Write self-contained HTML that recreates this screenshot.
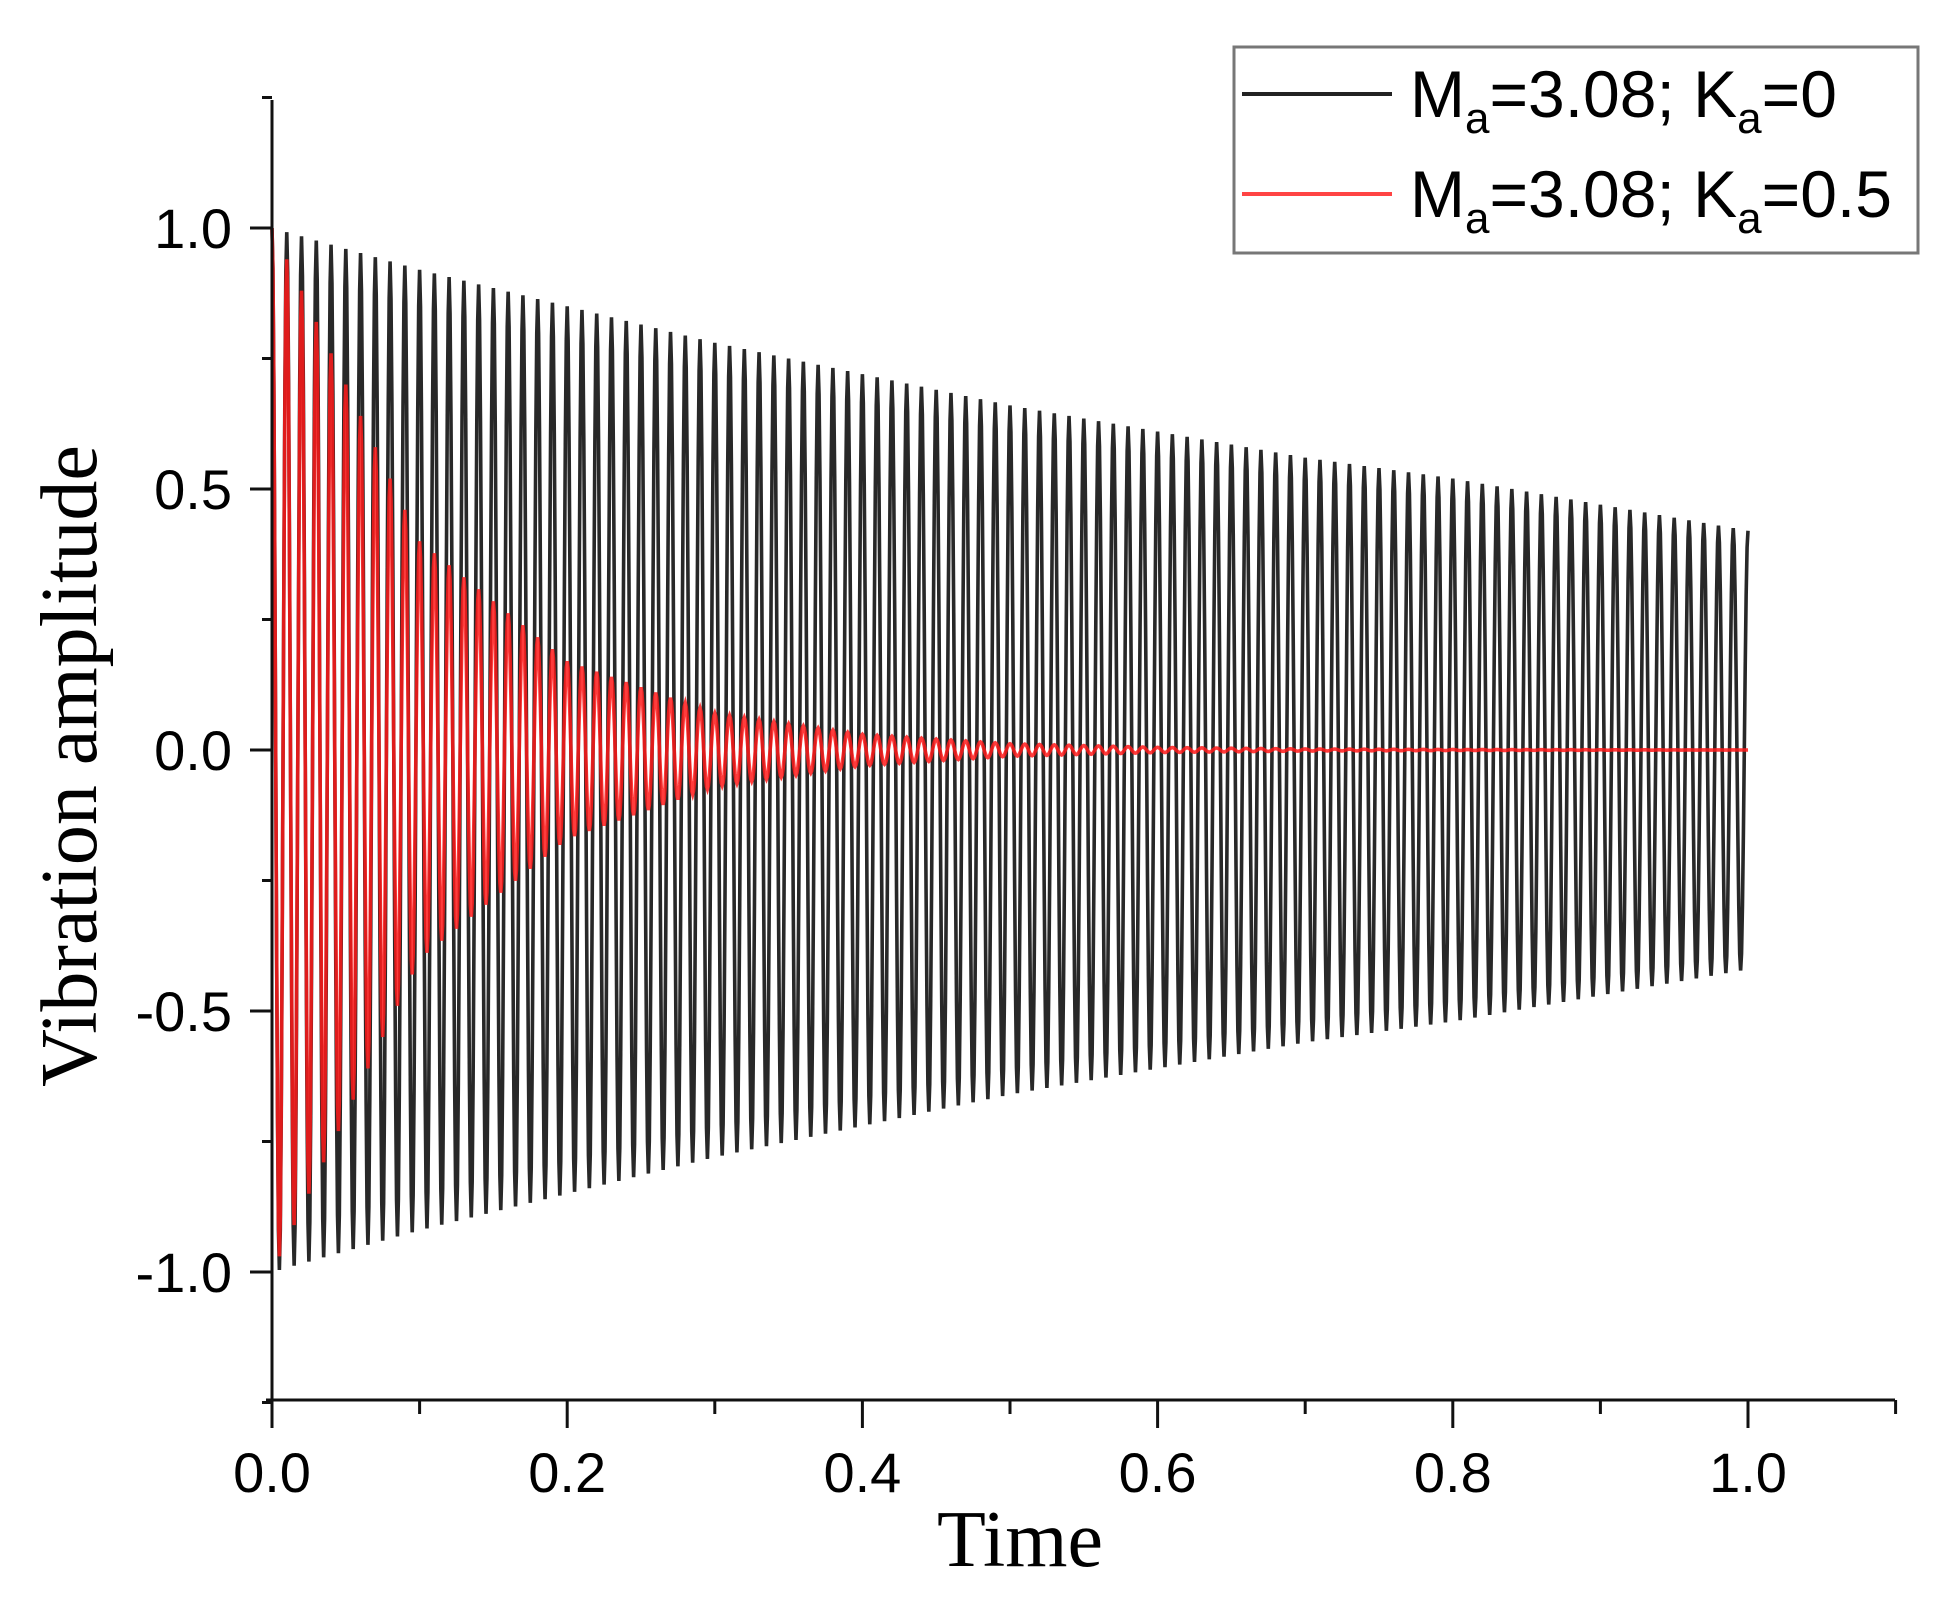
<!DOCTYPE html>
<html><head><meta charset="utf-8"><style>
html,body{margin:0;padding:0;background:#fff;width:1948px;height:1614px;overflow:hidden}
</style></head><body>
<svg id="chart" width="1948" height="1614" xmlns="http://www.w3.org/2000/svg">
<g id="plot"></g>
<g id="axes"></g>
<text x="1020" y="1566" font-family="Liberation Serif, serif" font-size="80" text-anchor="middle">Time</text>
<text transform="translate(96,766) rotate(-90)" font-family="Liberation Serif, serif" font-size="80" text-anchor="middle">Vibration amplitude</text>
<g>
<rect x="1234" y="47" width="684" height="206" fill="#fff" stroke="#777" stroke-width="3"/>
<g>
<line x1="1242" y1="94" x2="1392" y2="94" stroke="#222" stroke-width="4"/>
<text x="1410" y="117" font-family="Liberation Sans, sans-serif" font-size="66">M<tspan font-size="44" dy="16">a</tspan><tspan dy="-16">=3.08; K</tspan><tspan font-size="44" dy="16">a</tspan><tspan dy="-16">=0</tspan></text>
</g>
<g>
<line x1="1242" y1="194" x2="1392" y2="194" stroke="#f44" stroke-width="4"/>
<text x="1410" y="217" font-family="Liberation Sans, sans-serif" font-size="66">M<tspan font-size="44" dy="16">a</tspan><tspan dy="-16">=3.08; K</tspan><tspan font-size="44" dy="16">a</tspan><tspan dy="-16">=0.5</tspan></text>
</g>
</g>
</svg>
<script>
// data
const envTimes = [0,0.1,0.2,0.3,0.4,0.5,0.6,0.7,0.8,0.9,1.0];
const envKa0 = [1.0,0.92,0.85,0.78,0.72,0.66,0.61,0.56,0.52,0.47,0.42];
const envKa05 = [1.0,0.40,0.17,0.07,0.03,0.012,0.005,0.002,0.001,0.0005,0.0];
const cyclesPerUnit = [100];
const xTicks = [0,0.2,0.4,0.6,0.8,1.0];
const xTickLabels = ["0.0","0.2","0.4","0.6","0.8","1.0"];
const yTicks = [-1.0,-0.5,0.0,0.5,1.0];
const yTickLabels = ["-1.0","-0.5","0.0","0.5","1.0"];

const X0=272, X1=1748, Y0=750, YU=522;
function xs(t){return X0+(X1-X0)*t;}
function ys(v){return Y0-YU*v;}
function env(arr,t){
  for(let i=0;i<envTimes.length-1;i++){
    if(t<=envTimes[i+1]){const f=(t-envTimes[i])/(envTimes[i+1]-envTimes[i]);return arr[i]+(arr[i+1]-arr[i])*f;}
  }
  return arr[arr.length-1];
}
const NS="http://www.w3.org/2000/svg";
const plot=document.getElementById('plot'), axes=document.getElementById('axes');
function series(arr,color,w,name,op){
  const n=cyclesPerUnit[0]*16; let d='';
  for(let i=0;i<=n;i++){const t=i/n;const v=env(arr,t)*Math.cos(2*Math.PI*cyclesPerUnit[0]*t);
    d+=(i?'L':'M')+xs(t).toFixed(2)+' '+ys(v).toFixed(2);}
  const p=document.createElementNS(NS,'path');
  p.setAttribute('d',d);p.setAttribute('fill','none');p.setAttribute('stroke',color);
  p.setAttribute('stroke-width',w);p.setAttribute('stroke-opacity',op);
  
  
  plot.appendChild(p);
}
series(envKa0,'#111',3.6,'series-ka0',0.9);
series(envKa05,'#ff1a1a',3.6,'series-ka05',0.85);

function ln(x1,y1,x2,y2,name){const l=document.createElementNS(NS,'line');
  l.setAttribute('x1',x1);l.setAttribute('y1',y1);l.setAttribute('x2',x2);l.setAttribute('y2',y2);
  l.setAttribute('stroke','#111');l.setAttribute('stroke-width',3);
  
  
  axes.appendChild(l);}
function tx(x,y,s,anchor,name){const e=document.createElementNS(NS,'text');
  e.setAttribute('x',x);e.setAttribute('y',y);e.setAttribute('text-anchor',anchor);
  e.setAttribute('font-family','Liberation Sans, sans-serif');e.setAttribute('font-size','56');
  e.textContent=s;
  
  
  axes.appendChild(e);}
ln(X0,100,X0,1401,'y-axis-line');
ln(X0-6,1400,1895,1400,'x-axis-line');
for(let i=0;i<=11;i++){const x=xs(i*0.1);const major=i%2===0;
  ln(x,1400,x,major?1428:1414,'x-tick');}
xTicks.forEach((t,i)=>tx(xs(t),1492,xTickLabels[i],'middle','x-tick-label'));
for(let i=-2;i<=2;i++){const y=ys(i*0.5);ln(X0-22,y,X0,y,'y-tick');}
for(let i=-5;i<=5;i++){const y=ys(i*0.25);ln(X0,y,X0-10,y,'y-minor-tick');}
yTicks.forEach((v,i)=>tx(X0-40,ys(v)+20,yTickLabels[i],'end','y-tick-label'));
</script>
</body></html>
